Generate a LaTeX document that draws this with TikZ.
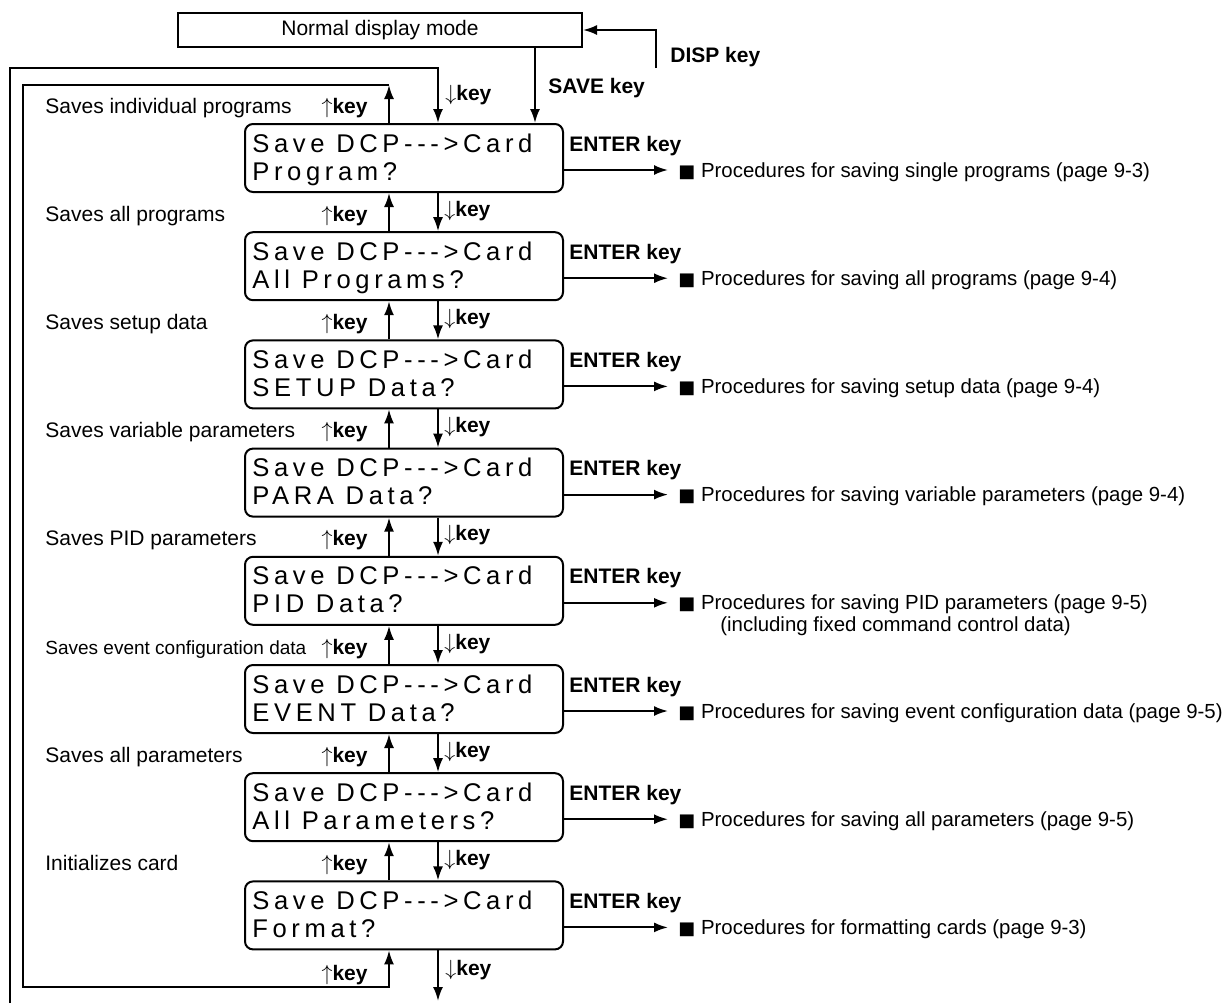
\documentclass[tikz,border=0pt]{standalone}
\usepackage{fontspec}
\setmainfont{Liberation Sans}
\newfontfamily\lcdfont[LetterSpace=18]{Liberation Sans}
\newfontfamily\symfont{DejaVu Sans}
\usetikzlibrary{calc,positioning,arrows.meta}

\tikzset{
  conn/.style={line width=1pt},
  arr/.style={conn,-{Latex[length=7pt,width=5pt]}},
  lcdbox/.style={draw,line width=1pt,rounded corners=4pt,minimum width=159pt,minimum height=34pt,inner sep=0pt},
  lcdtext/.style={inner sep=0pt,anchor=base west,font=\lcdfont\fontsize{12.8pt}{14pt}\selectfont},
  modebox/.style={draw,line width=1pt,minimum width=202pt,minimum height=17pt,inner sep=0pt},
  txt/.style={inner sep=0pt,font=\fontsize{10.5pt}{12pt}\selectfont},
  side/.style={txt,anchor=base west},
  sidesmall/.style={side,font=\fontsize{9.5pt}{11pt}\selectfont},
  proctext/.style={side,font=\fontsize{10.2pt}{12pt}\selectfont},
  keylbl/.style={txt,font=\fontsize{10.5pt}{12pt}\selectfont\bfseries},
}
\newcommand{\upkey}{$\uparrow$\textbf{key}}
\newcommand{\dnkey}{$\downarrow$\textbf{key}}
\newcommand{\blk}{{\symfont\fontsize{9pt}{9pt}\selectfont■}}

\begin{document}
\begin{tikzpicture}[x=0.5pt,y=-0.5pt]
\useasboundingbox (0,0) rectangle (1226,1003);
% x positions of the up / down connectors
\coordinate (upx) at (389,0);
\coordinate (dnx) at (438,0);
\coordinate (savex) at (535,0);

% normal display mode
\node[modebox,txt] (normal) at (380,30) {Normal display mode};
\coordinate (disp) at (656,68);
\draw[arr] (disp) |- (normal.east);
\node[keylbl,anchor=base west] (displbl) at (670,62) {DISP key};

% the eight card menus
\foreach \i/\ltext/\stext/\sstyle/\ptext in {
  1/Program?/Saves individual programs/side/Procedures for saving single programs (page 9-3),
  2/All Programs?/Saves all programs/side/Procedures for saving all programs (page 9-4),
  3/SETUP Data?/Saves setup data/side/Procedures for saving setup data (page 9-4),
  4/PARA Data?/Saves variable parameters/side/Procedures for saving variable parameters (page 9-4),
  5/PID Data?/Saves PID parameters/side/Procedures for saving PID parameters (page 9-5),
  6/EVENT Data?/Saves event configuration data/sidesmall/Procedures for saving event configuration data (page 9-5),
  7/All Parameters?/Saves all parameters/side/Procedures for saving all parameters (page 9-5),
  8/Format?/Initializes card/side/Procedures for formatting cards (page 9-3)} {
  \pgfmathsetmacro{\ytop}{124+(\i-1)*108.2}
  \node[lcdbox] (b\i) at (404,\ytop+34) {};
  \node[lcdtext] (sa\i) at ($(b\i.north west)+(8,29)$) {Save DCP--->Card};
  \node[lcdtext] (sb\i) at ($(b\i.north west)+(8,57)$) {\ltext};
  \node[\sstyle] (side\i) at (45,\ytop-11) {\stext};
  \node[keylbl,anchor=base west] (ent\i) at (569,\ytop+27) {ENTER key};
  \coordinate (ar\i) at (668,\ytop+46);
  \draw[arr] (b\i.east |- ar\i) -- (ar\i);
  \node[proctext] (proc\i) at (678,\ytop+53) {\blk\ \ptext};
}
\node[proctext] (proc5b) at ($(proc5.base west)+(42,22)$) {(including fixed command control data)};

% up / down keys between menus
\foreach \i [evaluate=\i as \j using int(\i+1)] in {1,...,7} {
  \draw[arr] (b\j.north -| upx) -- (b\i.south -| upx);
  \draw[arr] (b\i.south -| dnx) -- (b\j.north -| dnx);
  \node[txt,anchor=base east] (uk\j) at ($(b\j.north -| upx)+(-21,-10)$) {\upkey};
  \node[txt,anchor=base west] (dk\j) at ($(b\j.north -| dnx)+(6,-15)$) {\dnkey};
}

% entry from normal display
\draw[arr] (normal.south -| savex) -- (b1.north -| savex);
\node[keylbl,anchor=base west] (savelbl) at (548,93) {SAVE key};

% outer loop (down key from the last menu)
\coordinate (outerBL) at (10,1003);
\coordinate (outerTL) at (10,68);
\draw[arr] (outerBL) -- (outerTL) -| (b1.north -| dnx);
\node[txt,anchor=base west] (dk1) at (445,100) {\dnkey};

% inner loop (up key from the first menu)
\coordinate (uptop) at (389,85);
\coordinate (innerTL) at (23,85);
\coordinate (innerBL) at (23,987);
\draw[arr] (b1.north -| upx) -- (uptop);
\draw[arr] (uptop) -- (innerTL) -- (innerBL) -| (b8.south -| upx);
\node[txt,anchor=base east] (uk1) at (368,113) {\upkey};

% bottom
\coordinate (dnend) at (438,1001);
\draw[arr] (b8.south -| dnx) -- (dnend);
\node[txt,anchor=base east] (uk9) at (368,980) {\upkey};
\node[txt,anchor=base west] (dk9) at (445,975) {\dnkey};
\end{tikzpicture}
\end{document}
